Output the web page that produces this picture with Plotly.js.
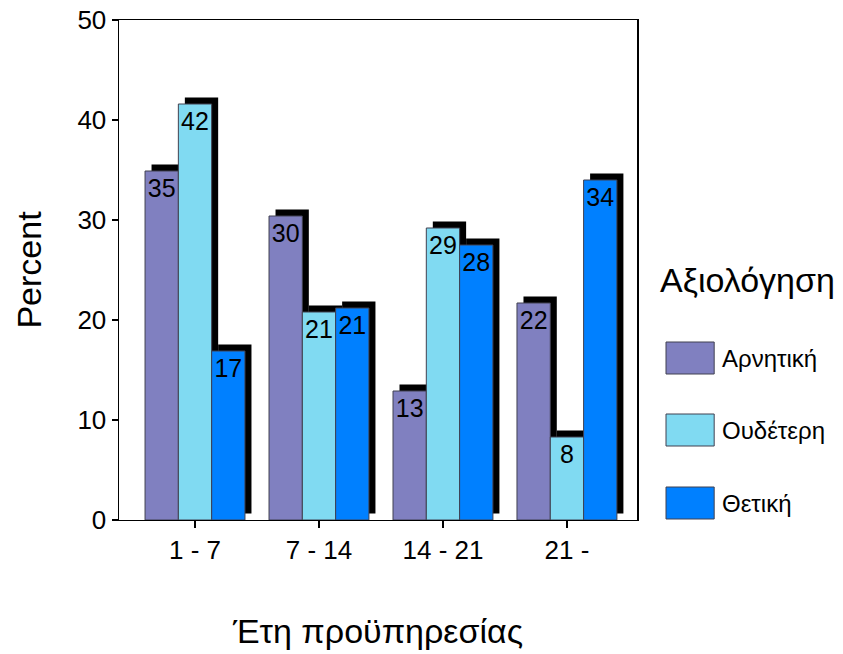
<!DOCTYPE html>
<html>
<head>
<meta charset="utf-8">
<script src="https://cdn.plot.ly/plotly-3.0.1.min.js"></script>
<style>html,body{margin:0;padding:0;background:#fff;}#chart{width:843px;height:654px;}</style>
</head>
<body>
<div id="chart"></div>
<script>
const categories = ['1 - 7', '7 - 14', '14 - 21', '21 -'];
const seriesNames = ['Αρνητική', 'Ουδέτερη', 'Θετική'];
const negative = [34.9, 30.4, 12.9, 21.7];
const neutral = [41.6, 20.8, 29.2, 8.3];
const positive = [16.9, 21.2, 27.5, 34.0];
const colors = ['#8080C0', '#80DAF2', '#0080FF'];
const yTicks = [0, 10, 20, 30, 40, 50];
const xTitle = 'Έτη προϋπηρεσίας';
const yTitle = 'Percent';
const legendTitle = 'Αξιολόγηση';

const values = [negative, neutral, positive];
const FONT = 'Liberation Sans, Arial, sans-serif';

// geometry helpers (pixels -> data offsets for the shadow)
const xRange = [-0.613, 3.565];
const yRange = [0, 50];
const plotW = 518, plotH = 500;
const shX = 6.5 * (xRange[1] - xRange[0]) / plotW;
const shY = 6.5 * (yRange[1] - yRange[0]) / plotH;

const traces = [];
// shadows (drawn first, on shifted axes)
values.forEach((v, i) => {
  traces.push({
    type: 'bar', x: categories, y: v, name: seriesNames[i] + ' shadow',
    xaxis: 'x', yaxis: 'y',
    marker: {color: '#000000', line: {width: 0}},
    hoverinfo: 'skip', showlegend: false
  });
});
// real bars
values.forEach((v, i) => {
  traces.push({
    type: 'bar', x: categories, y: v, name: seriesNames[i],
    xaxis: 'x2', yaxis: 'y2',
    marker: {color: colors[i], line: {color: '#404050', width: 1}},
    texttemplate: '%{y:.0f}', textposition: 'inside', insidetextanchor: 'end',
    textangle: 0, constraintext: 'none',
    insidetextfont: {family: FONT, size: 25, color: '#000000'},
    hoverinfo: 'skip', showlegend: false
  });
});

const shapes = [];
const annotations = [];
const swY = [[0.292, 0.356], [0.148, 0.212], [0.002, 0.066]];
seriesNames.forEach((n, i) => {
  shapes.push({type: 'rect', xref: 'paper', yref: 'paper',
    x0: 1.056, x1: 1.149, y0: swY[i][0], y1: swY[i][1],
    fillcolor: colors[i], line: {color: '#404050', width: 1}});
  annotations.push({xref: 'paper', yref: 'paper', x: 1.160, y: (swY[i][0] + swY[i][1]) / 2,
    xanchor: 'left', yanchor: 'middle', text: n, showarrow: false,
    font: {family: FONT, size: 24, color: '#000'}});
});
annotations.push({xref: 'paper', yref: 'paper', x: 1.214, y: 0.48, xanchor: 'center', yanchor: 'middle',
  text: legendTitle, showarrow: false, font: {family: FONT, size: 34, color: '#000'}});

const layout = {
  width: 843, height: 654,
  margin: {l: 119, r: 206, t: 20, b: 134, pad: 0},
  paper_bgcolor: '#ffffff', plot_bgcolor: '#ffffff',
  barmode: 'group', bargap: 0.194, bargroupgap: 0,
  showlegend: false,
  font: {family: FONT, color: '#000'},
  xaxis: {range: [xRange[0] - shX, xRange[1] - shX], visible: false, fixedrange: true},
  yaxis: {range: [yRange[0] - shY, yRange[1] - shY], visible: false, fixedrange: true},
  xaxis2: {overlaying: 'x', anchor: 'y2', range: xRange, type: 'category',
    showline: true, linecolor: '#000', linewidth: 1.2, mirror: true,
    ticks: 'outside', ticklen: 7, tickwidth: 2.5, tickcolor: '#000',
    showgrid: false, zeroline: false,
    tickfont: {family: FONT, size: 26, color: '#000'},
    title: {text: xTitle, font: {family: FONT, size: 34, color: '#000'}, standoff: 54}},
  yaxis2: {overlaying: 'y', anchor: 'x2', range: yRange, tickvals: yTicks,
    showline: true, linecolor: '#000', linewidth: 1.5, mirror: true,
    ticks: 'outside', ticklen: 6, tickwidth: 2.5, tickcolor: '#000',
    showgrid: false, zeroline: false,
    tickfont: {family: FONT, size: 26, color: '#000'},
    title: {text: yTitle, font: {family: FONT, size: 34, color: '#000'}, standoff: 25}},
  shapes: shapes,
  annotations: annotations
};

Plotly.newPlot('chart', traces, layout, {displayModeBar: false, staticPlot: true});
</script>
</body>
</html>
